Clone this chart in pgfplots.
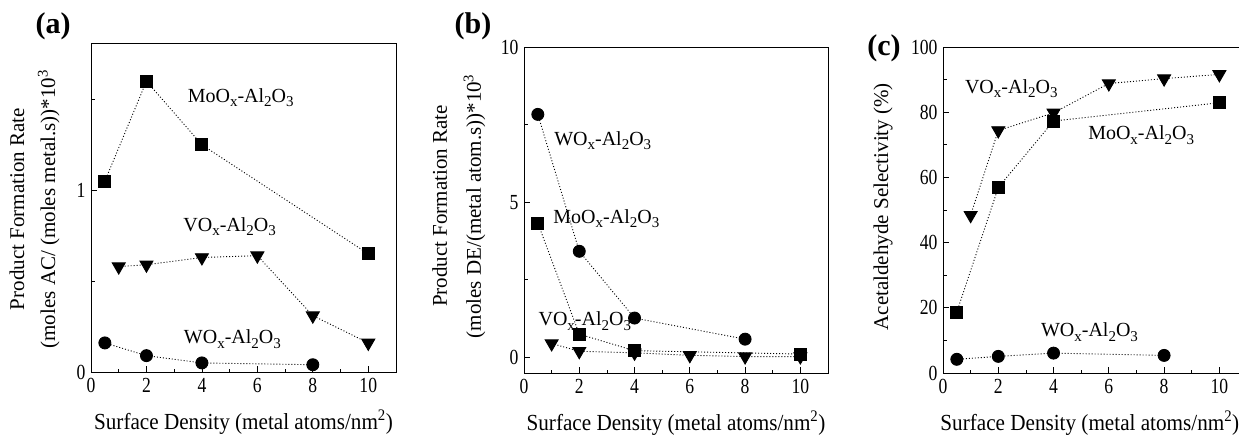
\documentclass[border=0pt]{standalone}
\usepackage{pgfplots}
\pgfplotsset{compat=1.18}
\usepackage{fontspec}
\setmainfont{Liberation Serif}
\newfontfamily\tickfont[FakeStretch=0.82]{Liberation Serif}
\newfontfamily\xlabfont[FakeStretch=0.92]{Liberation Serif}
\newcommand{\sbs}[1]{\raisebox{-0.5ex}{\fontsize{15}{15}\selectfont #1}}
\newcommand{\cmp}[1]{#1O\sbs{x}-Al\sbs{2}O\sbs{3}}
\tikzset{lab/.style={font=\fontsize{20}{20}\selectfont, inner sep=0pt}}
\pgfplotsset{
  panel/.style={
    scale only axis, anchor=south west,
    xmin=0, xmax=11, xtick={0,2,...,10}, minor x tick num=1,
    tick align=inside, xtick pos=bottom, ytick pos=left,
    major tick length=6pt, minor tick length=3.5pt,
    every tick/.style={black, line width=0.8pt},
    axis line style={line width=0.9pt},
    tick label style={font=\fontsize{21.5}{21.5}\selectfont\tickfont, /pgf/number format/assume math mode=true},
    xticklabel style={yshift=-3pt},
    yticklabel style={xshift=-2pt},
    xlabel={Surface Density (metal atoms/nm\textsuperscript{2})},
    xlabel style={font=\fontsize{23}{23}\selectfont\xlabfont, at={(axis description cs:0.5,-0.175)}, anchor=base},
    ylabel style={align=center, anchor=center},
    every axis plot/.append style={black, line width=0.9pt, dash pattern=on 1pt off 2pt},
  },
  mo/.style={mark=square*, mark size=6pt, mark options={solid}},
  vo/.style={mark=triangle*, mark size=7.5pt, mark options={solid, rotate=180}},
  wo/.style={mark=*, mark size=6pt, mark options={solid}},
}
\begin{document}
\begin{tikzpicture}
% (a)
\begin{axis}[panel, at={(91pt,-372pt)}, width=305pt, height=329pt,
  ymin=0, ymax=1.81, ytick={0,1}, minor ytick={0.5,1.5},
  ylabel={Product Formation Rate\\(moles AC/ (moles metal.s))*10\textsuperscript{3}},
  ylabel style={font=\fontsize{21}{31}\selectfont, at={(axis description cs:-0.185,0.495)}}]
\addplot[mo] coordinates {(0.5,1.05) (2,1.60) (4,1.25) (10,0.65)};
\addplot[vo] coordinates {(1,0.58) (2,0.59) (4,0.63) (6,0.64) (8,0.31) (10,0.16)};
\addplot[wo] coordinates {(0.5,0.16) (2,0.09) (4,0.05) (8,0.04)};
\node[lab] at (axis cs:5.4,1.51) {\cmp{Mo}};
\node[lab] at (axis cs:5.0,0.80) {\cmp{V}};
\node[lab] at (axis cs:5.1,0.18) {\cmp{W}};
\end{axis}
% (b)
\begin{axis}[panel, at={(524pt,-373pt)}, width=304pt, height=326pt,
  ymin=-0.5, ymax=10, ytick={0,5,10}, minor ytick={2.5,7.5},
  ylabel={Product Formation Rate\\(moles DE/(metal atom.s))*10\textsuperscript{3}},
  ylabel style={font=\fontsize{21}{34}\selectfont, at={(axis description cs:-0.214,0.512)}}]
\addplot[wo] coordinates {(0.5,7.83) (2,3.42) (4,1.27) (8,0.59)};
\addplot[mo] coordinates {(0.5,4.33) (2,0.75) (4,0.22) (10,0.11)};
\addplot[vo] coordinates {(1,0.45) (2,0.2) (4,0.15) (6,0.07) (8,0.03) (10,0.03)};
\node[lab] at (axis cs:2.85,6.99) {\cmp{W}};
\node[lab] at (axis cs:2.98,4.47) {\cmp{Mo}};
\node[lab] at (axis cs:2.2,1.18) {\cmp{V}};
\end{axis}
% (c)
\begin{axis}[panel, at={(943pt,-373pt)}, width=304pt, height=326pt,
  ymin=0, ymax=100, ytick={0,20,...,100}, minor ytick={10,30,...,90},
  ylabel={Acetaldehyde Selectivity (\%)},
  ylabel style={font=\fontsize{21}{31}\selectfont, at={(axis description cs:-0.197,0.51)}},
  xlabel style={at={(axis description cs:0.483,-0.175)}}]
\addplot[mo] coordinates {(0.5,18.7) (2,56.9) (4,77.3) (10,82.9)};
\addplot[vo] coordinates {(1,48.4) (2,74.4) (4,79.8) (6,88.8) (8,90.3) (10,91.6)};
\addplot[wo] coordinates {(0.5,4.2) (2,5.1) (4,6.1) (8,5.4)};
\node[lab] at (axis cs:2.47,87.2) {\cmp{V}};
\node[lab] at (axis cs:7.17,72.9) {\cmp{Mo}};
\node[lab] at (axis cs:5.3,12.6) {\cmp{W}};
\end{axis}
\node[font=\fontsize{30}{30}\selectfont\bfseries] at (53pt,-26pt) {(a)};
\node[font=\fontsize{30}{30}\selectfont\bfseries] at (473pt,-26pt) {(b)};
\node[font=\fontsize{30}{30}\selectfont\bfseries] at (884pt,-48pt) {(c)};
\pgfresetboundingbox
\path (0pt,0pt) rectangle (1239pt,-434pt);
\end{tikzpicture}
\end{document}
